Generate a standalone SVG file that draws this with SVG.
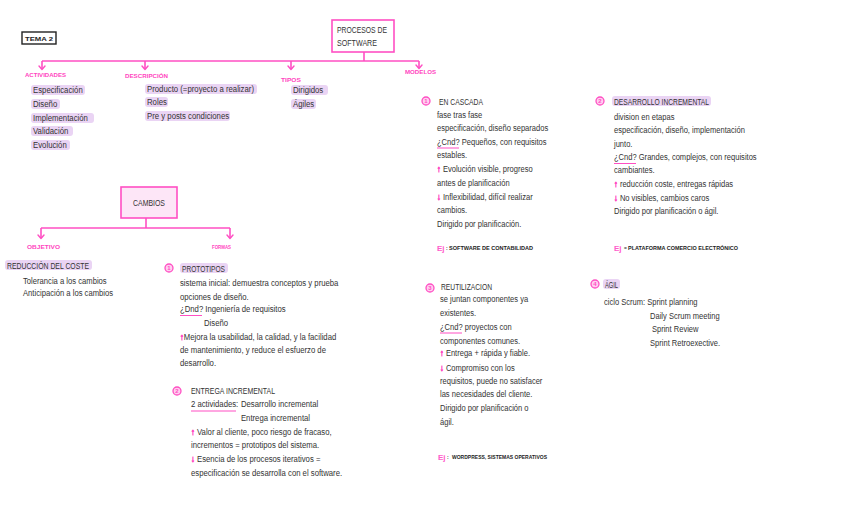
<svg xmlns="http://www.w3.org/2000/svg" width="848" height="530" viewBox="0 0 848 530">
<style>
.t{font-family:"Liberation Sans",Arial,sans-serif;font-size:9px;fill:#333}
.l{font-size:9.5px}
.h{font-family:"Liberation Sans",Arial,sans-serif;font-size:9px;fill:#333}
.lab{font-family:"Liberation Sans","DejaVu Sans",sans-serif;font-size:5.5px;font-weight:bold;fill:#ff45c0}
.ej{font-family:"Liberation Sans","DejaVu Sans",sans-serif;font-size:4.8px;font-weight:bold;fill:#222}
.ejp{font-family:"Liberation Sans",sans-serif;font-size:8px;font-weight:bold;fill:#ff5ccb}
.pk{fill:#ff45c0;stroke:#ff45c0;stroke-width:0.7;font-weight:bold}
.hl{fill:#ead4f4}
.box{fill:#fff;stroke:#ff4fc3;stroke-width:1.6}
.boxf{fill:#fde6f7;stroke:#ff4fc3;stroke-width:1.6}
.ln{stroke:#ff4fc3;stroke-width:1.6;fill:none}
.ah{stroke:#ff4fc3;stroke-width:1.4;fill:none;stroke-linecap:round;stroke-linejoin:round}
.ul{stroke:#ff4fc3;stroke-width:1;fill:none}
.ic{fill:#ffd0f0;stroke:#ff4fc3;stroke-width:1.3}
.icn{font-family:"Liberation Sans",sans-serif;font-size:6px;font-weight:bold;fill:#ff4fc3;text-anchor:middle}
</style>
<rect width="848" height="530" fill="#fff"/>

<g id="connectors">
<line class="ln" x1="364" y1="52" x2="364" y2="61"/>
<line class="ln" x1="42" y1="61" x2="419" y2="61"/>
<line class="ln" x1="42" y1="61" x2="42" y2="69"/>
<path class="ah" d="M39,66 L42,69.5 L45,66"/>
<line class="ln" x1="145" y1="61" x2="145" y2="69"/>
<path class="ah" d="M142,66 L145,69.5 L148,66"/>
<line class="ln" x1="291" y1="61" x2="291" y2="69"/>
<path class="ah" d="M288,66 L291,69.5 L294,66"/>
<line class="ln" x1="419" y1="61" x2="419" y2="68"/>
<path class="ah" d="M416,65 L419,68.5 L422,65"/>
<line class="ln" x1="146" y1="218" x2="146" y2="228"/>
<line class="ln" x1="41" y1="228" x2="230" y2="228"/>
<line class="ln" x1="41" y1="228" x2="41" y2="238"/>
<path class="ah" d="M38,235 L41,238.5 L44,235"/>
<line class="ln" x1="230" y1="228" x2="230" y2="238"/>
<path class="ah" d="M227,235 L230,238.5 L233,235"/>
</g>

<g id="tema2">
<rect x="22" y="32" width="34" height="12" fill="#fff" stroke="#222" stroke-width="1.4"/>
<text x="25" y="40.5" class="ej" style="font-size:6px" textLength="28" lengthAdjust="spacingAndGlyphs">TEMA 2</text>
</g>

<g id="procesos">
<rect class="box" x="332" y="20" width="62" height="32"/>
<text class="h" x="337" y="32.5" textLength="50" lengthAdjust="spacingAndGlyphs">PROCESOS DE</text>
<text class="h" x="337" y="46" textLength="40" lengthAdjust="spacingAndGlyphs">SOFTWARE</text>
</g>

<g id="actividades">
<text class="lab" x="25" y="77" textLength="41" lengthAdjust="spacingAndGlyphs">ACTIVIDADES</text>
<rect class="hl" x="31" y="85" width="54" height="10" rx="3"/>
<rect class="hl" x="31" y="99" width="29" height="10" rx="3"/>
<rect class="hl" x="31" y="113" width="63" height="10" rx="3"/>
<rect class="hl" x="31" y="126" width="42" height="10" rx="3"/>
<rect class="hl" x="31" y="140" width="39" height="10" rx="3"/>
<g transform="translate(33,0) scale(0.82,1)">
<text class="t l" x="0" y="93.5">Especificación</text>
<text class="t l" x="0" y="107.5">Diseño</text>
<text class="t l" x="0" y="121.5">Implementación</text>
<text class="t l" x="0" y="134.5">Validación</text>
<text class="t l" x="0" y="148.5">Evolución</text>
</g>
</g>

<g id="descripcion">
<text class="lab" x="125" y="78" textLength="43" lengthAdjust="spacingAndGlyphs">DESCRIPCIÓN</text>
<rect class="hl" x="145" y="84" width="112" height="10" rx="3"/>
<rect class="hl" x="145" y="97" width="23" height="10" rx="3"/>
<rect class="hl" x="145" y="111" width="85" height="10" rx="3"/>
<g transform="translate(147,0) scale(0.82,1)">
<text class="t l" x="0" y="92.5">Producto (=proyecto a realizar)</text>
<text class="t l" x="0" y="105.5">Roles</text>
<text class="t l" x="0" y="119.5">Pre y posts condiciones</text>
</g>
</g>

<g id="tipos">
<text class="lab" x="281" y="82" textLength="20" lengthAdjust="spacingAndGlyphs">TIPOS</text>
<rect class="hl" x="291" y="85" width="37" height="10" rx="3"/>
<rect class="hl" x="291" y="99" width="25" height="10" rx="3"/>
<g transform="translate(293,0) scale(0.82,1)">
<text class="t l" x="0" y="93.5">Dirigidos</text>
<text class="t l" x="0" y="107.5">Ágiles</text>
</g>
</g>

<g id="modelos">
<text class="lab" x="405" y="74" textLength="31" lengthAdjust="spacingAndGlyphs">MODELOS</text>
</g>

<g id="cascada">
<circle class="ic" cx="426" cy="101" r="4"/>
<text class="icn" x="426" y="103.2">1</text>
<text class="h" x="439" y="104.5" textLength="44" lengthAdjust="spacingAndGlyphs">EN CASCADA</text>
<line class="ul" x1="437" y1="148" x2="459" y2="148"/>
<g transform="translate(437,0) scale(0.84,1)">
<text class="t" x="0" y="118">fase tras fase</text>
<text class="t" x="0" y="131.5">especificación, diseño separados</text>
<text class="t" x="0" y="145">¿Cnd? Pequeños, con requisitos</text>
<text class="t" x="0" y="158.5">estables.</text>
<text class="t" x="0" y="172"><tspan class="pk">↑</tspan> Evolución visible, progreso</text>
<text class="t" x="0" y="186">antes de planificación</text>
<text class="t" x="0" y="200"><tspan class="pk">↓</tspan> Inflexibilidad, difícil realizar</text>
<text class="t" x="0" y="213.5">cambios.</text>
<text class="t" x="0" y="227">Dirigido por planificación.</text>
</g>
<text class="ejp" x="437" y="251">Ej</text><text class="ej" x="446" y="250">:</text>
<text class="ej" x="449" y="250" textLength="84" lengthAdjust="spacingAndGlyphs">SOFTWARE DE CONTABILIDAD</text>
</g>

<g id="desarrollo">
<rect class="hl" x="612" y="96" width="99" height="10" rx="3"/>
<circle class="ic" cx="600" cy="101" r="4"/>
<text class="icn" x="600" y="103.2">2</text>
<text class="h" x="614" y="104.5" textLength="95" lengthAdjust="spacingAndGlyphs">DESARROLLO INCREMENTAL</text>
<line class="ul" x1="614" y1="163.5" x2="636" y2="163.5"/>
<g transform="translate(614,0) scale(0.84,1)">
<text class="t" x="0" y="120">division en etapas</text>
<text class="t" x="0" y="133.5">especificación, diseño, implementación</text>
<text class="t" x="0" y="147">junto.</text>
<text class="t" x="0" y="160.5">¿Cnd? Grandes, complejos, con requisitos</text>
<text class="t" x="0" y="173.5">cambiantes.</text>
<text class="t" x="0" y="187"><tspan class="pk">↑</tspan> reducción coste, entregas rápidas</text>
<text class="t" x="0" y="201"><tspan class="pk">↓</tspan> No visibles, cambios caros</text>
<text class="t" x="0" y="214.5">Dirigido por planificación o ágil.</text>
</g>
<text class="ejp" x="614" y="251">Ej</text><text class="ej" x="624" y="250">=</text>
<text class="ej" x="628" y="250" textLength="110" lengthAdjust="spacingAndGlyphs">PLATAFORMA COMERCIO ELECTRÓNICO</text>
</g>

<g id="reutilizacion">
<circle class="ic" cx="430" cy="288" r="4"/>
<text class="icn" x="430" y="290.2">3</text>
<text class="h" x="441" y="289.5" textLength="51" lengthAdjust="spacingAndGlyphs">REUTILIZACION</text>
<line class="ul" x1="440" y1="333" x2="462" y2="333"/>
<g transform="translate(440,0) scale(0.84,1)">
<text class="t" x="0" y="302">se juntan componentes ya</text>
<text class="t" x="0" y="316">existentes.</text>
<text class="t" x="0" y="330">¿Cnd? proyectos con</text>
<text class="t" x="0" y="344">componentes comunes.</text>
<text class="t" x="0" y="356.5"><tspan class="pk">↑</tspan> Entrega + rápida y fiable.</text>
<text class="t" x="0" y="371"><tspan class="pk">↓</tspan> Compromiso con los</text>
<text class="t" x="0" y="384">requisitos, puede no satisfacer</text>
<text class="t" x="0" y="397.5">las necesidades del cliente.</text>
<text class="t" x="0" y="411">Dirigido por planificación o</text>
<text class="t" x="0" y="425">ágil.</text>
</g>
<text class="ejp" x="438" y="460">Ej</text><text class="ej" x="447" y="459">:</text>
<text class="ej" x="452" y="459" textLength="95" lengthAdjust="spacingAndGlyphs">WORDPRESS, SISTEMAS OPERATIVOS</text>
</g>

<g id="agil">
<rect class="hl" x="603" y="279" width="17" height="10" rx="3"/>
<circle class="ic" cx="595" cy="284" r="4"/>
<text class="icn" x="595" y="286.2">4</text>
<text class="h" x="605" y="287.5" textLength="13" lengthAdjust="spacingAndGlyphs">ÁGIL</text>
<g transform="translate(604,0) scale(0.84,1)">
<text class="t" x="0" y="305.5">ciclo Scrum: Sprint planning</text>
<text class="t" x="54.8" y="319">Daily Scrum meeting</text>
<text class="t" x="57.1" y="332.5">Sprint Review</text>
<text class="t" x="54.8" y="346">Sprint Retroexective.</text>
</g>
</g>

<g id="cambios">
<rect class="boxf" x="121" y="187" width="56" height="31"/>
<text class="h" x="133" y="205.5" textLength="32" lengthAdjust="spacingAndGlyphs">CAMBIOS</text>
</g>

<g id="objetivo">
<text class="lab" x="27" y="249" textLength="33" lengthAdjust="spacingAndGlyphs">OBJETIVO</text>
<rect class="hl" x="5" y="260" width="87" height="10" rx="3"/>
<text class="h" x="7" y="268.5" textLength="82" lengthAdjust="spacingAndGlyphs">REDUCCIÓN DEL COSTE</text>
<g transform="translate(23,0) scale(0.85,1)">
<text class="t" x="0" y="284">Tolerancia a los cambios</text>
<text class="t" x="0" y="296.5">Anticipación a los cambios</text>
</g>
</g>

<g id="formas">
<text class="lab" x="212" y="249" textLength="19" lengthAdjust="spacingAndGlyphs">FORMAS</text>
</g>

<g id="prototipos">
<rect class="hl" x="180" y="263" width="48" height="10" rx="3"/>
<circle class="ic" cx="169" cy="268" r="4"/>
<text class="icn" x="169" y="270.2">1</text>
<text class="h" x="182" y="271.5" textLength="43" lengthAdjust="spacingAndGlyphs">PROTOTIPOS</text>
<line class="ul" x1="180" y1="315.5" x2="202" y2="315.5"/>
<g transform="translate(180,0) scale(0.86,1)">
<text class="t" x="0" y="286">sistema inicial: demuestra conceptos y prueba</text>
<text class="t" x="0" y="300">opciones de diseño.</text>
<text class="t" x="0" y="312.5">¿Dnd? Ingeniería de requisitos</text>
<text class="t" x="27.9" y="326">Diseño</text>
<text class="t" x="0" y="340"><tspan class="pk">↑</tspan>Mejora la usabilidad, la calidad, y la facilidad</text>
<text class="t" x="0" y="353">de mantenimiento, y reduce el esfuerzo de</text>
<text class="t" x="0" y="366">desarrollo.</text>
</g>
</g>

<g id="entrega">
<circle class="ic" cx="177" cy="391" r="4"/>
<text class="icn" x="177" y="393.2">2</text>
<text class="h" x="191" y="393.5" textLength="84" lengthAdjust="spacingAndGlyphs">ENTREGA INCREMENTAL</text>
<line class="ul" x1="191" y1="411" x2="236" y2="411"/>
<g transform="translate(191,0) scale(0.86,1)">
<text class="t" x="0" y="407.5">2 actividades:</text>
<text class="t" x="58.1" y="407.5">Desarrollo incremental</text>
<text class="t" x="58.1" y="421">Entrega incremental</text>
<text class="t" x="0" y="435"><tspan class="pk">↑</tspan> Valor al cliente, poco riesgo de fracaso,</text>
<text class="t" x="0" y="448.5">incrementos = prototipos del sistema.</text>
<text class="t" x="0" y="462"><tspan class="pk">↓</tspan> Esencia de los procesos iterativos =</text>
<text class="t" x="0" y="476">especificación se desarrolla con el software.</text>
</g>
</g>
</svg>
